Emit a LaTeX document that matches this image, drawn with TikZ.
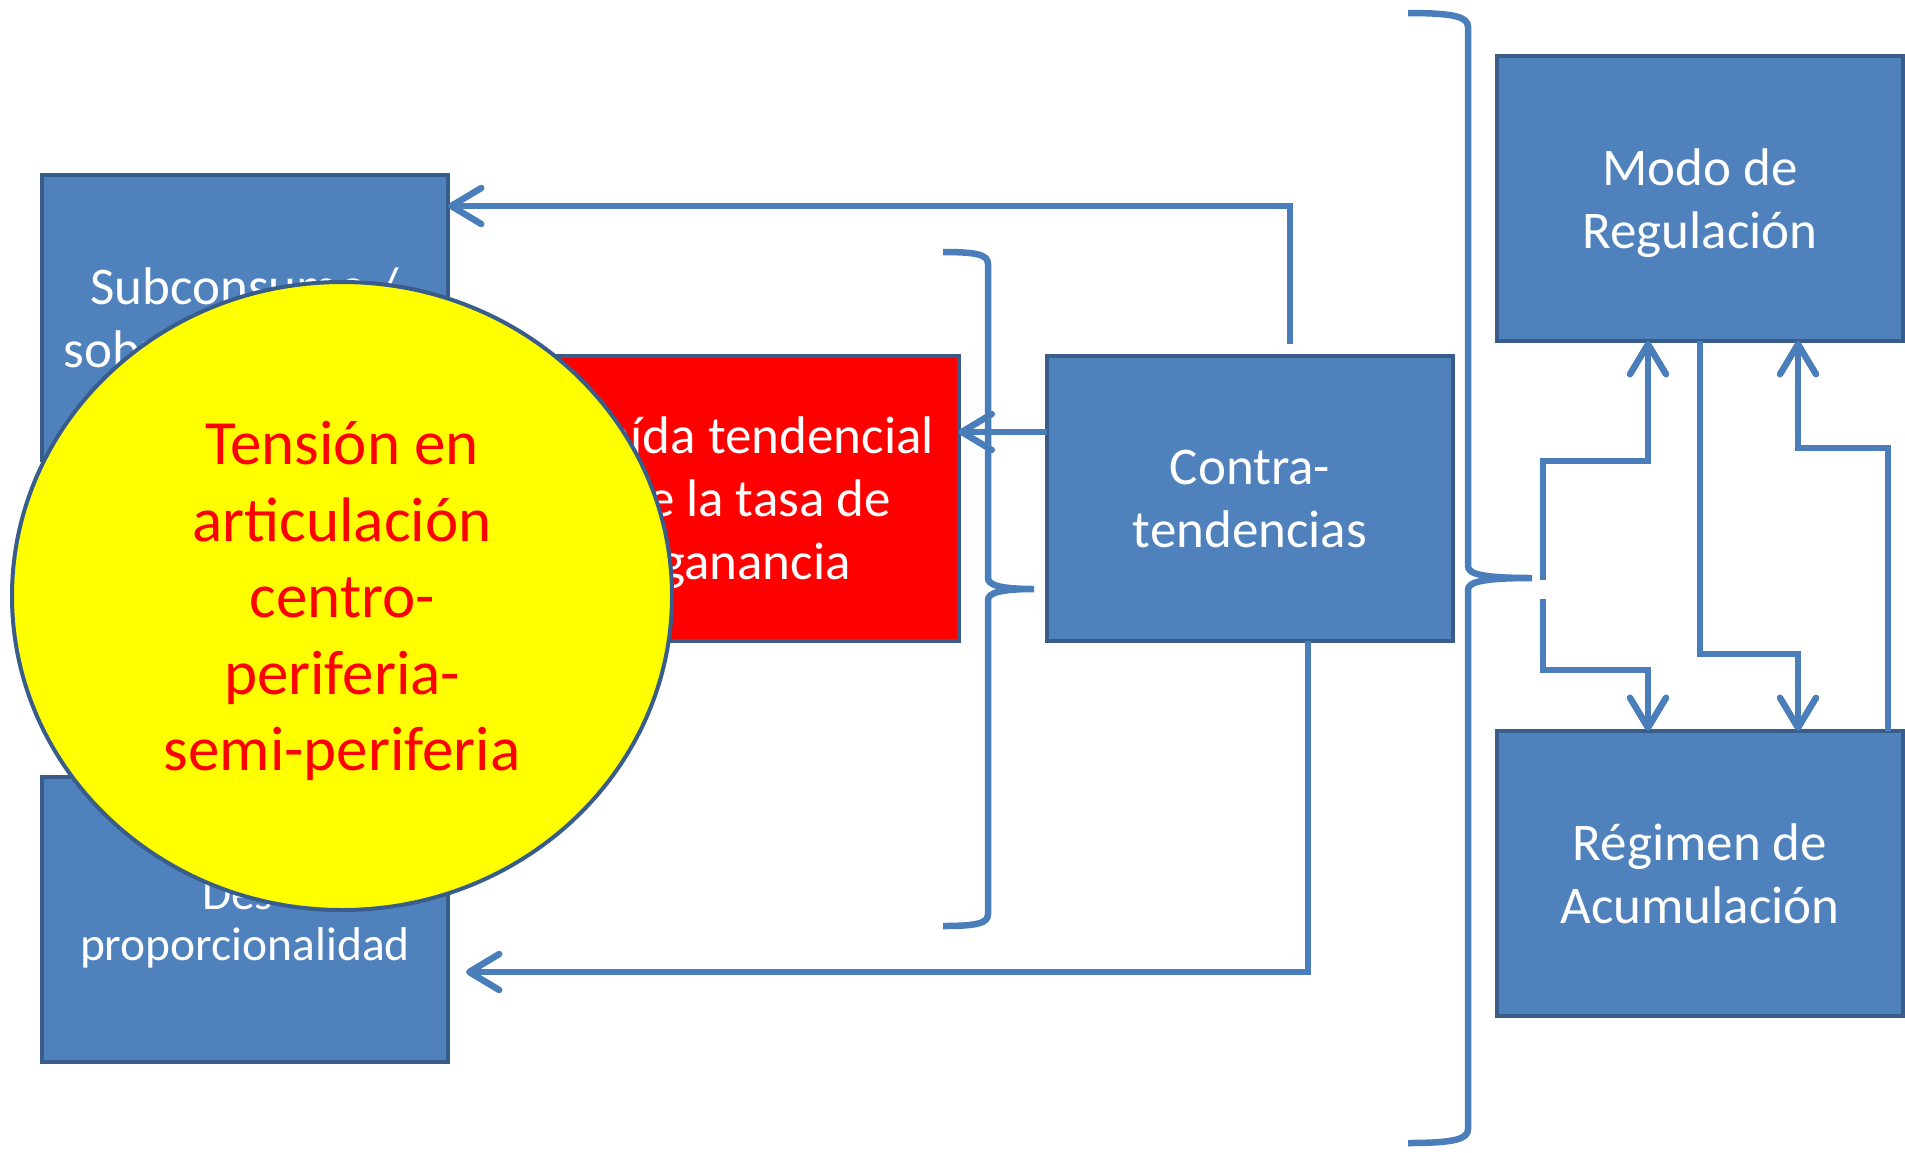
\documentclass[tikz,border=0pt]{standalone}
\usepackage{fontspec}
\setmainfont{Carlito}
\usetikzlibrary{arrows.meta,shapes.geometric}
\definecolor{boxblue}{HTML}{4F81BD}
\definecolor{boxborder}{HTML}{385D8A}
\definecolor{connblue}{HTML}{4A7EBB}
\definecolor{hotred}{HTML}{FF0000}
\definecolor{sunyellow}{HTML}{FFFF00}
\begin{document}
\begin{tikzpicture}[x=1pt,y=-1pt,
  box/.style={draw=boxborder,line width=4pt,fill=boxblue,minimum width=406pt,minimum height=285pt,
    inner sep=0pt,outer sep=0pt,align=center,text=white,text depth=0pt,font=\fontsize{53}{63}\selectfont},
  conn/.style={draw=connblue,line width=6.5pt},
  arr/.style={-{Straight Barb[length=30pt,width=36pt,round]}},
  bracestyle/.style={draw=connblue,line width=6.5pt},
]
\path[use as bounding box,fill=white] (0,0) rectangle (1905,1152);

% boxes
\node[box] (sub) at (245,317.5) {Subconsumo /\\sobreproducción};
\node[box,font=\fontsize{47.5}{51}\selectfont] (desp) at (245,919.5) {Des-\\proporcionalidad};
\node[box,fill=hotred] (red) at (755.5,498.5) {Caída tendencial\\de la tasa de\\ganancia};
\node[box] (contra) at (1250,498.5) {Contra-\\tendencias};
\node[box] (modo) at (1700,198.5) {Modo de\\Regulación};
\node[box] (reg) at (1700,873.5) {Régimen de\\Acumulación};

% left brace
\draw[bracestyle] (943,252) .. controls (978,252) and (988,255) .. (988,264) -- (988,578)
  .. controls (988,585) and (1000,589) .. (1034,589)
  .. controls (1000,589) and (988,593) .. (988,600) -- (988,914)
  .. controls (988,923) and (978,926) .. (943,926);

% big brace
\draw[bracestyle] (1408,13) .. controls (1455,13) and (1468,17) .. (1468,27) -- (1468,566)
  .. controls (1468,574) and (1482,578) .. (1532,578)
  .. controls (1482,578) and (1468,582) .. (1468,590) -- (1468,1129)
  .. controls (1468,1139) and (1455,1143) .. (1408,1143);

% left connectors
\coordinate (t1) at (1290,206);
\draw[conn,arr,shorten <=12pt] (contra.north -| t1) -- (t1) -- (sub.east |- t1);
\coordinate (ly) at (0,432);
\draw[conn,arr] (contra.west |- ly) -- (red.east |- ly);
\coordinate (b1) at (1308,972);
\draw[conn,arr,shorten >=18pt] (contra.south -| b1) -- (b1) -- (desp.east |- b1);

% right connectors
\coordinate (tipA) at (1543,580);
\coordinate (tipB) at (1543,599);
\coordinate (ua) at (1543,461);
\coordinate (ub) at (1648,461);
\coordinate (la) at (1543,670);
\coordinate (lb) at (1648,670);
\draw[conn,arr] (tipA) -- (ua) -- (ub) -- (modo.south -| ub);
\draw[conn,arr] (tipB) -- (la) -- (lb) -- (reg.north -| lb);
\coordinate (ma) at (1700,654);
\coordinate (mb) at (1798,654);
\draw[conn,arr] (modo.south -| ma) -- (ma) -- (mb) -- (reg.north -| mb);
\coordinate (ra) at (1888,448);
\coordinate (rb) at (1798,448);
\draw[conn,arr] (reg.north -| ra) -- (ra) -- (rb) -- (modo.south -| rb);

% circle
\node[draw=boxborder,line width=4pt,fill=sunyellow,ellipse,minimum width=660pt,minimum height=628pt,
  inner sep=0pt,text=hotred,align=center,text depth=0pt,font=\fontsize{63}{76.5}\selectfont] (circ) at (342,596)
  {Tensión en\\articulación\\centro-\\periferia-\\semi-periferia};
\end{tikzpicture}
\end{document}
